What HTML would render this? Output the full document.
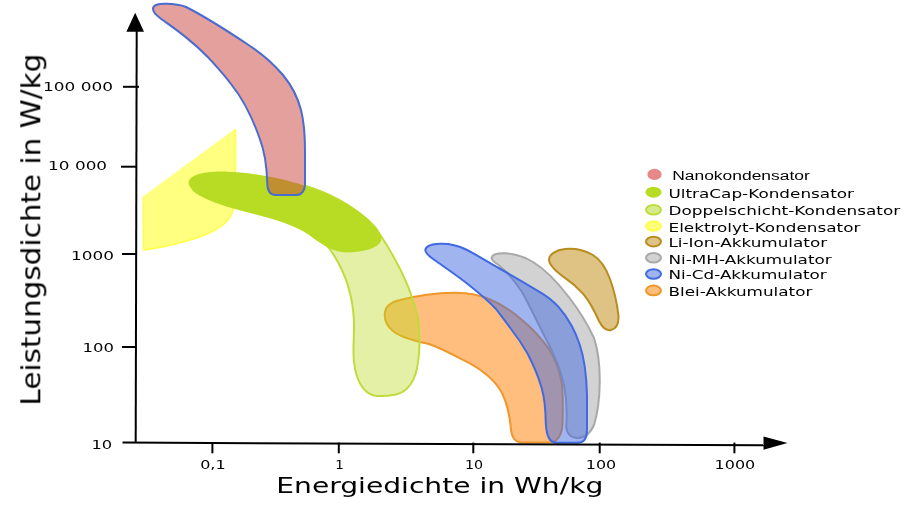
<!DOCTYPE html>
<html><head><meta charset="utf-8"><title>Ragone-Diagramm</title>
<style>
html,body{margin:0;padding:0;background:#fff;}
svg{display:block;}
text{font-family:"DejaVu Sans","Liberation Sans",sans-serif;fill:#000;}
.t{font-size:13px;}
.l{font-size:12.3px;}
</style></head>
<body>
<svg width="909" height="512" viewBox="0 0 909 512">
<rect width="909" height="512" fill="#fff"/>
<!-- Elektrolyt (yellow) -->
<path d="M143,196.5 L235.5,128.6 L235.5,195 C235.3,207 232,216 225.7,222.5 C218,230 208,234 198.3,237.5 C182,243 162,247.5 143,250 Z" fill="#ffff80"/>
<path d="M235.5,129.5 L235.5,195 C235.3,207 232,216 225.7,222.5 C218,230 208,234 198.3,237.5 C182,243 162,247.5 143.5,250 L143.5,197" fill="none" stroke="#ffff4a" stroke-width="1.6"/>
<!-- Blei (orange) -->
<path d="M384.7,315 C384.7,307 391,302 400,300 C415,296 435,293 455,292.7 C470,292.5 480,295 490,299.5 C503,305 513,312 521.5,319.6 C531.5,328 541,338 548.5,348.3 C555,358.5 560,371 562,385 C563,397 563,410 562.5,424 C562.2,432 560,437 556,440.5 C554,442 552,442.5 549,442.5 L522,442.5 C515,442.5 512,438 511,430 C510,418 508,405 502,393 C495,380 480,368 462,359.4 C450,353 440,348 429,344 C415,341 400,337 393,331 C387,326 384.7,320 384.7,315 Z" fill="#ffbe7d" stroke="#f0962a" stroke-width="2"/>
<!-- Doppelschicht (light green) -->
<path d="M306,186 C335,195 365,212 381,236 C398,262 412,290 418,318 C420,335 420,350 418,362 C416,380 408,392 396,394.5 C388,396 380,396.5 374,395.5 C363,393 356,380 354,362 C352.5,350 354.5,335 354,322 C353,296 345,270 329,248 C318,236 300,226 280,218 Z" fill="rgba(187,217,30,0.4)" stroke="#c0dc3c" stroke-width="2"/>
<!-- UltraCap (green) -->
<path d="M188.5,182.5 C190,174 205,171.5 225,171.5 C255,172.5 285,179 310,187.5 C340,198 365,213 377,228 C381,234 382,238 381,241 C378,248 365,252 346,252.5 C335,252 325,247 309,235 C295,225 270,218 250,213 C225,207 200,198 193,191 C190,187 188.5,185 188.5,182.5 Z" fill="#b8dc24"/>
<!-- Nano (red) -->
<path d="M153,9 C153,5 158,3.5 166,3.7 C174,3.8 180,4.5 186,7 C210,19 235,36 252,47.3 C268,58 277,68 283,75 C292,86 298,98 301,110 C304,122 305,135 305,150 L305,184 C305,190 302,195 297,195 L276,195 C270,195 267.5,190 267.3,184 C267,172 265,152 259.5,138 C252.5,118 243,99 231,84 C223,73.5 215,65 208,57.2 C200,49 193,43 186,37.4 C177,30 168,24 160,18 C156,15 153,12 153,9 Z" fill="rgba(199,65,57,0.5)" stroke="#4a6bd0" stroke-width="2"/>
<!-- Ni-MH (gray) -->
<path d="M491.5,258 C492,254.5 497,253 505,253.3 C515,253.7 524,256.5 533,262 C547,270.5 558,283 568,296 C579,310 588,325 594,338 C598,350 600,368 599.7,384 C599.5,398 598,412 594,425 C590,434 584,438 577,438 C571,437.5 566.5,434 566.3,426 C567,415 567,400 564,385 C560.5,369 553.5,353 546.5,340 C539,326 531.5,309 522,292 C515,281 506,271 498,264.5 C494,262 491.5,260 491.5,258 Z" fill="#d2d2d2" stroke="#a8a8a8" stroke-width="2"/>
<!-- Ni-Cd (blue) -->
<path d="M425.3,250 C426,246 432,244 440,243.8 C450,243.5 458,245.5 466,249.5 C476,254.3 488,262.3 499.5,268.5 C512,275.5 526,283.7 538.6,291.3 C546,295.5 553,301 558.1,306.4 C564,313 568.5,320 571.8,326 C575,332 577.5,338 579.5,344 C584,357 586.5,375 587,395 L587,430 C587,438 584,442.7 578,442.7 L556,442.7 C550,442.7 546.5,436 545.8,423.6 C545.6,410 544.8,399 541.8,388.5 C538.5,377 533.5,365 527.5,353.5 C522,344 516.5,336 511,329 C505.5,321.5 500.5,315 496,309 C488,300.3 478,292.3 468,284.3 C458,276.3 446,268.3 436,261 C430,257 425.3,253.5 425.3,250 Z" fill="rgba(65,105,225,0.5)" stroke="#4169e1" stroke-width="2"/>
<!-- Li-Ion -->
<path d="M549,259.5 C549.5,254 556,250 565,249 C575,248 584,250 592,254.5 C600,259 606,268 610,279 C614,290 617,303 618.4,315 C619,323 617,328.5 611,330 C606,331 602,327 599,321 C595,312 590,302 583.2,293.8 C577,287 571,282 565.6,278.4 C558,273 549,266 549,259.5 Z" fill="#dec384" stroke="#b88c1e" stroke-width="2"/>

<!-- axes -->
<g stroke="#000" stroke-width="2" fill="none">
<line x1="136.7" y1="30" x2="135.7" y2="443"/>
<line x1="122.5" y1="442.6" x2="765" y2="445.3"/>
<line x1="123" y1="86.8" x2="139" y2="86.8"/>
<line x1="121" y1="166.7" x2="137" y2="166.7"/>
<line x1="122" y1="254" x2="136" y2="254"/>
<line x1="122" y1="347" x2="136" y2="347"/>
<line x1="212.4" y1="442.6" x2="212.4" y2="453.3"/>
<line x1="338.8" y1="442.6" x2="338.8" y2="453.3"/>
<line x1="473.3" y1="442.6" x2="473.3" y2="453.3"/>
<line x1="599.7" y1="442.6" x2="599.7" y2="453.3"/>
<line x1="734.4" y1="442.6" x2="734.4" y2="453.3"/>
</g>
<polygon points="135.2,12.8 126.4,31.8 144,31.8" fill="#000"/>
<polygon points="787.5,443.1 763.5,436.5 763.5,449.7" fill="#000"/>

<g opacity="0.999">
<!-- y tick labels -->
<text class="t" x="43.0" y="90.7" textLength="70" lengthAdjust="spacingAndGlyphs">100 000</text>
<text class="t" x="48.1" y="170.3" textLength="59" lengthAdjust="spacingAndGlyphs">10 000</text>
<text class="t" x="71.0" y="259.5" textLength="42.9" lengthAdjust="spacingAndGlyphs">1000</text>
<text class="t" x="82.5" y="351.8" textLength="31.4" lengthAdjust="spacingAndGlyphs">100</text>
<text class="t" x="91.5" y="448.6" textLength="20.7" lengthAdjust="spacingAndGlyphs">10</text>
<!-- x tick labels -->
<text class="t" x="200.2" y="468.6" textLength="25.4" lengthAdjust="spacingAndGlyphs">0,1</text>
<text class="t" x="335.2" y="468.6" textLength="8.6" lengthAdjust="spacingAndGlyphs">1</text>
<text class="t" x="465.0" y="468.6" textLength="18.2" lengthAdjust="spacingAndGlyphs">10</text>
<text class="t" x="585.8" y="468.6" textLength="30.4" lengthAdjust="spacingAndGlyphs">100</text>
<text class="t" x="714.6" y="468.6" textLength="40.6" lengthAdjust="spacingAndGlyphs">1000</text>
<!-- axis titles -->
<text x="276.3" y="492.6" font-size="21.8" textLength="327" lengthAdjust="spacingAndGlyphs">Energiedichte in Wh/kg</text>
<text transform="translate(40.3,405.6) rotate(-90)" font-size="26.5" textLength="352" lengthAdjust="spacingAndGlyphs">Leistungsdichte in W/kg</text>

<!-- legend -->
<g stroke-width="2">
<ellipse cx="654.5" cy="174.4" rx="7.1" ry="5.6" fill="#e6878a"/>
<ellipse cx="653.5" cy="192.2" rx="8" ry="5.5" fill="#b8dc24"/>
<ellipse cx="653.5" cy="209.7" rx="7.5" ry="4.8" fill="#d6ec8c" stroke="#bedc3c"/>
<ellipse cx="653.5" cy="226" rx="7.5" ry="4.8" fill="#ffff78" stroke="#ffff50"/>
<ellipse cx="653.5" cy="241.6" rx="7.5" ry="4.8" fill="#dec384" stroke="#b88c1e"/>
<ellipse cx="653.5" cy="257.8" rx="7.5" ry="4.8" fill="#d2d2d2" stroke="#a8a8a8"/>
<ellipse cx="653.5" cy="274" rx="7.5" ry="4.8" fill="#a0b4f0" stroke="#4169e1"/>
<ellipse cx="653.5" cy="290.4" rx="7.5" ry="4.8" fill="#ffbe7d" stroke="#f0962a"/>
</g>
<text x="672.2" y="179.6" font-size="12.5" style="font-family:'Liberation Sans',sans-serif" textLength="137.6" lengthAdjust="spacingAndGlyphs">Nanokondensator</text>
<text class="l" x="668.5" y="197.8" textLength="185.5" lengthAdjust="spacingAndGlyphs">UltraCap-Kondensator</text>
<text class="l" x="668.5" y="215.3" textLength="231.7" lengthAdjust="spacingAndGlyphs">Doppelschicht-Kondensator</text>
<text class="l" x="668.5" y="231.6" textLength="191.9" lengthAdjust="spacingAndGlyphs">Elektrolyt-Kondensator</text>
<text class="l" x="668.5" y="247.1" textLength="158.6" lengthAdjust="spacingAndGlyphs">Li-Ion-Akkumulator</text>
<text class="l" x="668.5" y="263.9" textLength="163.2" lengthAdjust="spacingAndGlyphs">Ni-MH-Akkumulator</text>
<text class="l" x="668.5" y="279.2" textLength="158.2" lengthAdjust="spacingAndGlyphs">Ni-Cd-Akkumulator</text>
<text class="l" x="668.5" y="295.5" textLength="143.9" lengthAdjust="spacingAndGlyphs">Blei-Akkumulator</text>
</g>
</svg>
</body></html>
